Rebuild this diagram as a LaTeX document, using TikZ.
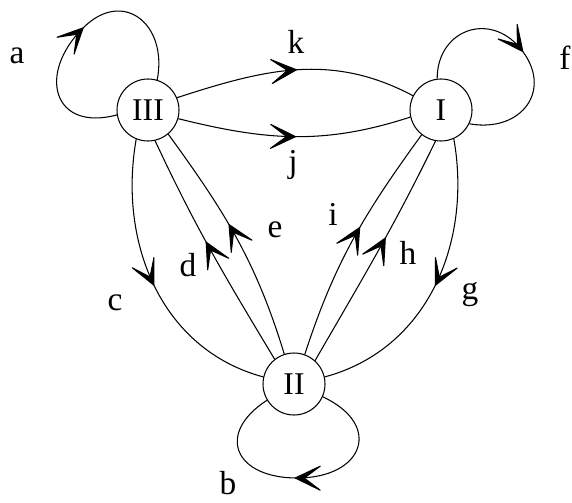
\documentclass[tikz,border=0pt]{standalone}
\usepackage{fontspec}
\setmainfont{Liberation Serif}
\usetikzlibrary{decorations.markings}

\tikzset{
  state/.style={circle, draw, line width=0.6pt, minimum size=1.24cm,
    inner sep=0pt, font=\fontsize{18}{20}\selectfont},
  lbl/.style={font=\fontsize{19}{21}\selectfont, inner sep=0pt},
  midarrow/.style={postaction={decorate}, decoration={markings,
    mark=at position #1 with {\filldraw[line join=round]
      (0.02cm,0) -- (-0.48cm,0.24cm) -- (-0.16cm,0) -- (-0.48cm,-0.24cm) -- cycle;}}},
  midarrow/.default=0.5
}

\begin{document}
\begin{tikzpicture}[line width=0.6pt]
  \useasboundingbox (0,0) rectangle (11.44,10.04);

  %states
  \node[state] (III) at (2.96,7.84) {III};
  \node[state] (I) at (8.82,7.84) {I};
  \node[state] (II) at (5.88,2.36) {II};

  %turning points of the loops
  \coordinate (aTurn) at (1.66,9.48);
  \coordinate (fTurn) at (10.4,9.08);
  \coordinate (bTurn) at (5.94,0.48);

  %loops
  \draw[midarrow=0.52] (III.189) to[out=195,in=225,looseness=1.8] (aTurn)
    to[out=45,in=79,looseness=1.6] (III.73);
  \draw[midarrow=0.5] (I.97) to[out=90,in=130,looseness=1.4] (fTurn)
    to[out=-50,in=-10,looseness=1.5] (I.-26);
  \draw[midarrow=0.52] (II.-24) to[out=-25,in=0,looseness=2] (bTurn)
    to[out=180,in=-147,looseness=1.9] (II.-149);

  %III to I
  \draw[midarrow] (III.23) to[out=18,in=152] (I.153);
  \draw[midarrow] (III.-16) to[out=-14,in=198] (I.193);

  %outer edges down to II
  \draw[midarrow] (III.-112) to[out=-100,in=165] (II.167);
  \draw[midarrow] (I.-66) to[out=-80,in=15] (II.13);

  %inner edges up from II
  \draw[midarrow=0.54] (II.128) to[out=121,in=-65] (III.-77);
  \draw[midarrow=0.56] (II.108) to[out=107,in=-54] (III.-50);
  \draw[midarrow=0.55] (II.70) to[out=72,in=-126] (I.-128);
  \draw[midarrow=0.56] (II.48) to[out=60,in=-116] (I.-100);

  %labels
  \node[lbl] (la) at (0.34,8.92) {a};
  \node[lbl] (lb) at (4.56,0.38) {b};
  \node[lbl] (lc) at (2.3,3.98) {c};
  \node[lbl] (ld) at (3.76,4.74) {d};
  \node[lbl] (le) at (5.5,5.44) {e};
  \node[lbl] (lf) at (11.3,8.88) {f};
  \node[lbl] (lg) at (9.4,4.14) {g};
  \node[lbl] (lh) at (8.16,4.98) {h};
  \node[lbl] (li) at (6.66,5.76) {i};
  \node[lbl] (lj) at (5.86,6.74) {j};
  \node[lbl] (lk) at (5.92,9.2) {k};
\end{tikzpicture}
\end{document}
